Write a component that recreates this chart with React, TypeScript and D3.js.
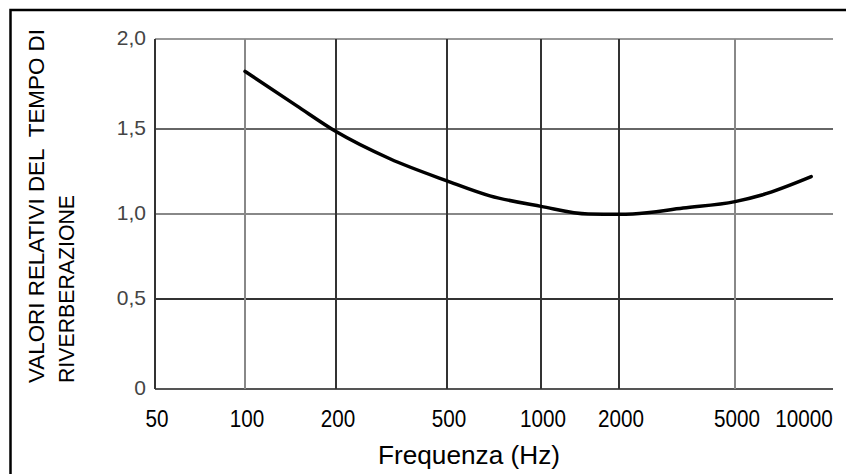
import React from 'react';
import * as d3 from 'd3';

const freqTicks = [50, 100, 200, 500, 1000, 2000, 5000, 10000];
const freqLabels = ['50', '100', '200', '500', '1000', '2000', '5000', '10000'];
const gridFreqs = [50, 100, 200, 500, 1000, 2000, 5000];
const valueTicks = [0, 0.5, 1, 1.5, 2];
const valueLabels = ['0', '0,5', '1,0', '1,5', '2,0'];
const curveFreq = [100, 148, 200, 312, 500, 686, 1000, 1520, 2000, 2230, 3320, 5000, 6600, 11000];
const curveValue = [1.82, 1.63, 1.485, 1.325, 1.195, 1.107, 1.045, 1.0, 0.998, 1.0, 1.035, 1.073, 1.112, 1.22];
const yTitle1 = 'VALORI RELATIVI DEL  TEMPO DI';
const yTitle2 = 'RIVERBERAZIONE';
const xTitle = 'Frequenza (Hz)';

const W = 846;
const H = 474;
const FONT = "'Liberation Sans', Arial, Helvetica, sans-serif";

const vGridColor: Record<number, string> = { 50: '#333', 100: '#888', 200: '#333', 500: '#333', 1000: '#333', 2000: '#333', 5000: '#888' };
const hGridColor: Record<number, string> = { 0: '#555', 0.5: '#333', 1: '#888', 1.5: '#666', 2: '#999' };

export default function App() {
  const x = d3.scaleLog().domain(freqTicks).range([155, 245, 336, 447, 541, 619, 735, 802]);
  const y = d3.scaleLinear().domain(valueTicks).range([389, 299, 214, 129, 39]);
  const pts = curveFreq.map((f, i) => [x(f), y(curveValue[i])] as [number, number]);
  const path = d3.line().curve(d3.curveMonotoneX)(pts) || '';
  const x0 = x(50);
  const x1 = 833;
  const yTop = y(2);
  const yBot = y(0);
  return (
    <svg width={W} height={H} style={{ position: 'fixed', left: 0, top: 0, background: '#fff' }} fontFamily={FONT}>
      <rect x={0} y={0} width={W} height={H} fill="#fff" />
      <rect x={10.5} y={10} width={1000} height={1000} fill="none" stroke="#000" strokeWidth={2.5} />
      {valueTicks.map((v) => (
        <line key={'h' + v} x1={x0} x2={x1} y1={y(v)} y2={y(v)} stroke={hGridColor[v]} strokeWidth={2} />
      ))}
      {gridFreqs.map((f) => (
        <line key={'v' + f} x1={x(f)} x2={x(f)} y1={yTop} y2={yBot} stroke={vGridColor[f]} strokeWidth={2} />
      ))}
      <path d={path} fill="none" stroke="#000" strokeWidth={3.5} strokeLinejoin="round" strokeLinecap="round" />
      {valueTicks.map((v, i) => (
        <text key={'yl' + v} x={146} y={y(v) - 2} textAnchor="end" dominantBaseline="central" fontSize={21} fill="#444">
          {valueLabels[i]}
        </text>
      ))}
      {freqTicks.map((f, i) => (
        <text key={'xl' + f} x={x(f) + 2} y={427} textAnchor="middle" fontSize={24} fill="#000"
          textLength={freqLabels[i].length * 11.5} lengthAdjust="spacingAndGlyphs">
          {freqLabels[i]}
        </text>
      ))}
      <text x={469} y={464} textAnchor="middle" fontSize={25} fill="#000" textLength={182} lengthAdjust="spacingAndGlyphs">
        {xTitle}
      </text>
      <text transform="translate(44,383) rotate(-90)" x={0} y={0} fontSize={22.5} fill="#000" textLength={354} lengthAdjust="spacingAndGlyphs" style={{ whiteSpace: 'pre' }}>
        {yTitle1}
      </text>
      <text transform="translate(74,383) rotate(-90)" x={0} y={0} fontSize={22.5} fill="#000" textLength={188} lengthAdjust="spacingAndGlyphs">
        {yTitle2}
      </text>
    </svg>
  );
}
